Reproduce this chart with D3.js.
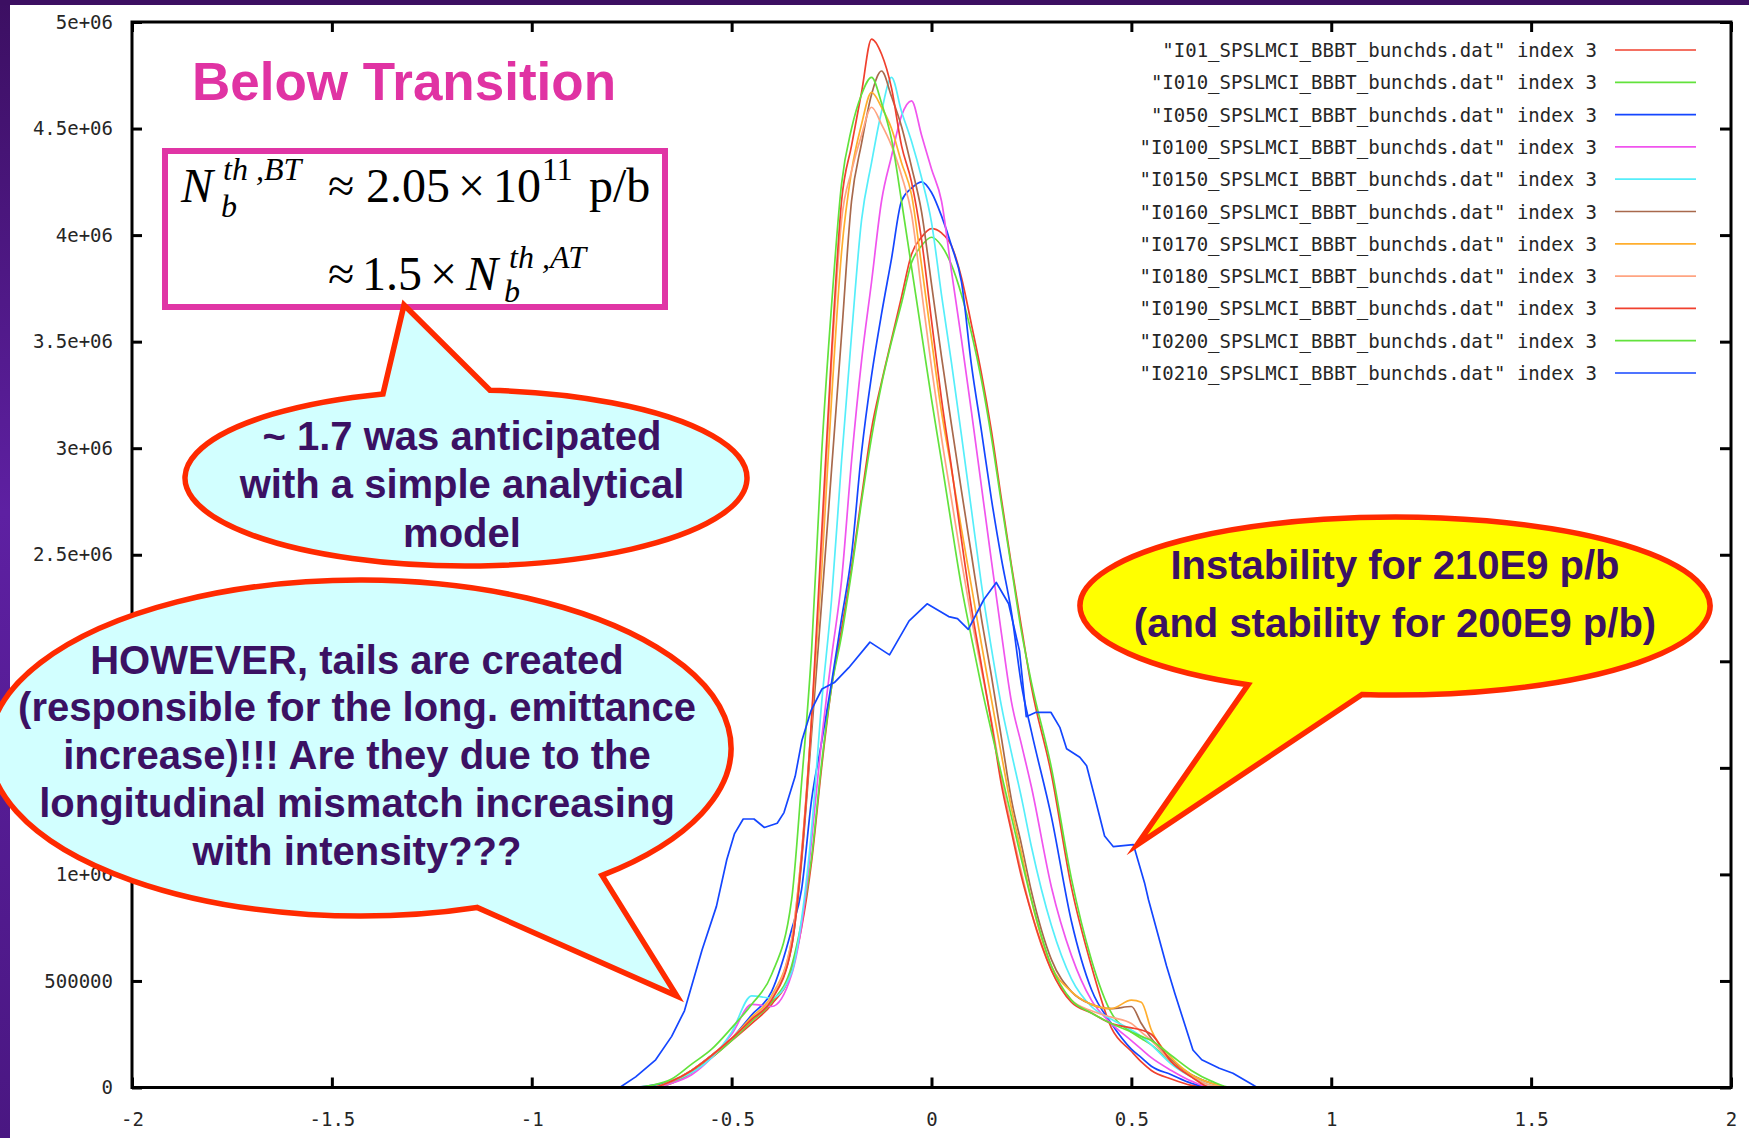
<!DOCTYPE html>
<html>
<head>
<meta charset="utf-8">
<script src="https://cdn.jsdelivr.net/npm/d3@7"></script>
<style>
  body { margin: 0; background: #fff; }
  svg { display: block; }
  .axis text, .legend text { font-family: "DejaVu Sans Mono", "Liberation Mono", monospace; font-size: 19px; fill: #262626; }
  .axis line { stroke: #000; stroke-width: 3; }
  .callout text { font-family: "Liberation Sans", Arial, sans-serif; font-weight: bold; font-size: 40px; fill: #3b1163; }
  .formula text { font-family: "Liberation Serif", "Times New Roman", serif; fill: #000; }
</style>
</head>
<body>
<div id="chart"></div>
<script>
// Configuration
const W = 1749, H = 1138;
const plot = { left: 132, right: 1731, top: 22, bottom: 1087.5 };

// Bunch profiles, values in units of 1e6, on a shared x grid
const xGrid = [-0.8,-0.75,-0.7,-0.65,-0.6,-0.55,-0.5,-0.45,-0.4,-0.35,-0.325,-0.3,-0.275,-0.25,-0.225,-0.2,-0.175,-0.15,-0.125,-0.1,-0.075,-0.05,-0.025,0,0.025,0.05,0.075,0.1,0.125,0.15,0.175,0.2,0.225,0.25,0.3,0.35,0.4,0.45,0.5,0.525,0.55,0.6,0.65,0.7,0.75,0.8];

const yI01   = [0,0,0,0.02,0.07,0.14,0.22,0.3,0.39,0.55,0.75,1.06,1.5,1.88,2.15,2.44,2.77,3.09,3.31,3.51,3.71,3.91,3.99,4.03,4.01,3.95,3.8,3.58,3.35,3.08,2.76,2.45,2.16,1.88,1.47,0.94,0.57,0.28,0.17,0.12,0.08,0.04,0.01,0,0,0];
const yI010  = [0,0,0,0.02,0.07,0.14,0.22,0.31,0.4,0.57,0.78,1.08,1.52,1.88,2.12,2.42,2.75,3.05,3.3,3.5,3.68,3.87,3.95,3.99,3.95,3.86,3.72,3.54,3.32,3.05,2.74,2.44,2.14,1.9,1.5,0.98,0.6,0.35,0.26,0.23,0.2,0.12,0.06,0.02,0,0];
const yI050  = [0,0,0.01,0.03,0.08,0.15,0.23,0.34,0.45,0.74,0.93,1.35,1.62,1.9,2.2,2.5,2.98,3.34,3.63,3.89,4.16,4.22,4.25,4.2,4.09,3.95,3.78,3.39,3.08,2.76,2.48,2.23,1.89,1.67,1.27,0.78,0.46,0.3,0.18,0.14,0.1,0.06,0.02,0,0,0];
const yI0100 = [0,0,0,0.02,0.06,0.14,0.25,0.39,0.38,0.53,0.76,1.16,1.63,2.02,2.38,2.94,3.41,3.78,4.16,4.37,4.56,4.63,4.47,4.31,4.16,3.83,3.51,3.17,2.82,2.47,2.13,1.81,1.61,1.41,0.94,0.62,0.41,0.3,0.22,0.18,0.14,0.08,0.03,0,0,0];
const yI0150 = [0,0,0,0.03,0.07,0.14,0.26,0.43,0.42,0.54,0.79,1.21,1.8,2.29,2.94,3.53,4.07,4.34,4.58,4.74,4.58,4.44,4.27,4.06,3.72,3.4,3.06,2.71,2.36,2.06,1.79,1.57,1.36,1.13,0.76,0.51,0.38,0.32,0.27,0.24,0.2,0.11,0.05,0.01,0,0];
const yI0160 = [0,0,0,0.03,0.08,0.15,0.23,0.32,0.42,0.66,1.06,1.66,2.27,2.9,3.53,4.16,4.43,4.66,4.77,4.65,4.51,4.32,4.11,3.77,3.43,3.11,2.8,2.5,2.2,1.93,1.64,1.35,1.14,0.92,0.6,0.45,0.39,0.37,0.38,0.3,0.23,0.13,0.06,0.02,0,0];
const yI0170 = [0,0,0,0.03,0.08,0.15,0.23,0.33,0.43,0.69,1.1,1.72,2.42,3.23,3.92,4.3,4.52,4.67,4.6,4.5,4.34,4.19,3.86,3.51,3.17,2.9,2.62,2.35,2.08,1.82,1.56,1.31,1.1,0.88,0.57,0.45,0.39,0.37,0.41,0.4,0.27,0.14,0.06,0.02,0,0];
const yI0180 = [0,0,0,0.03,0.08,0.15,0.23,0.32,0.42,0.69,1.1,1.72,2.5,3.4,4.07,4.3,4.47,4.6,4.52,4.42,4.28,4.1,3.74,3.38,3.05,2.76,2.47,2.2,1.96,1.72,1.45,1.22,1.01,0.82,0.55,0.41,0.36,0.33,0.3,0.26,0.22,0.12,0.05,0.01,0,0];
const yI0190 = [0,0,0,0.03,0.08,0.15,0.23,0.32,0.41,0.66,1.08,1.73,2.59,3.45,4.16,4.42,4.67,4.92,4.85,4.69,4.42,4.25,3.98,3.6,3.23,2.91,2.57,2.25,1.98,1.71,1.42,1.2,0.99,0.82,0.55,0.4,0.35,0.3,0.28,0.27,0.25,0.12,0.05,0,0,0];
const yI0200 = [0,0,0.01,0.04,0.11,0.18,0.28,0.39,0.53,0.88,1.43,2.05,2.97,3.67,4.24,4.5,4.66,4.74,4.62,4.45,4.16,3.85,3.54,3.23,2.94,2.64,2.35,2.11,1.88,1.67,1.47,1.27,1.07,0.88,0.57,0.41,0.35,0.3,0.26,0.24,0.22,0.15,0.08,0.03,0,0];

// the unstable bunch has its own sampling
const xI0210 = [-0.78,-0.74,-0.69,-0.65,-0.618,-0.574,-0.538,-0.512,-0.493,-0.471,-0.444,-0.418,-0.386,-0.369,-0.341,-0.324,-0.301,-0.274,-0.243,-0.207,-0.154,-0.105,-0.056,-0.011,0.043,0.065,0.092,0.131,0.162,0.193,0.22,0.237,0.26,0.299,0.321,0.338,0.371,0.388,0.41,0.433,0.455,0.505,0.533,0.543,0.588,0.609,0.654,0.676,0.72,0.754,0.797,0.815];
const yI0210 = [0,0.05,0.13,0.24,0.36,0.645,0.85,1.07,1.19,1.26,1.26,1.22,1.24,1.29,1.46,1.63,1.77,1.87,1.9,1.97,2.09,2.03,2.19,2.27,2.21,2.2,2.15,2.29,2.37,2.27,2.05,1.74,1.76,1.76,1.69,1.59,1.55,1.51,1.35,1.18,1.13,1.14,0.96,0.88,0.57,0.44,0.176,0.13,0.09,0.067,0.02,0];

const seriesNames = ["I01", "I010", "I050", "I0100", "I0150", "I0160", "I0170", "I0180", "I0190", "I0200", "I0210"];
const seriesColors = ["#f0402e", "#62e23c", "#1446ff", "#f054ee", "#55eefa", "#a8694c", "#ffae2e", "#ffa482", "#f0402e", "#62e23c", "#1446ff"];

const xTicks = [-2, -1.5, -1, -0.5, 0, 0.5, 1, 1.5, 2];
const xTickLabels = ["-2", "-1.5", "-1", "-0.5", "0", "0.5", "1", "1.5", "2"];
const yTicks = [0, 0.5, 1, 1.5, 2, 2.5, 3, 3.5, 4, 4.5, 5];
const yTickLabels = ["0", "500000", "1e+06", "1.5e+06", "2e+06", "2.5e+06", "3e+06", "3.5e+06", "4e+06", "4.5e+06", "5e+06"];

// Build the series table
const gridSeries = [yI01, yI010, yI050, yI0100, yI0150, yI0160, yI0170, yI0180, yI0190, yI0200];
const series = seriesNames.map((name, i) => {
  const onGrid = i < gridSeries.length;
  const pts = onGrid
    ? xGrid.map((x, j) => [x, gridSeries[i][j]])
    : xI0210.map((x, j) => [x, yI0210[j]]);
  return { name, color: seriesColors[i], pts, smooth: onGrid };
});

// Scales
const x = d3.scaleLinear().domain([-2, 2]).range([plot.left, plot.right]);
const y = d3.scaleLinear().domain([0, 5]).range([plot.bottom, plot.top]);

// Create SVG
const svg = d3.select("#chart").append("svg").attr("width", W).attr("height", H);

// Slide frame: purple band on top, gradient strip on the left
const defs = svg.append("defs");
const grad = defs.append("linearGradient").attr("id", "strip").attr("x1", 0).attr("y1", 0).attr("x2", 0).attr("y2", 1);
grad.append("stop").attr("offset", "0%").attr("stop-color", "#3c0f62");
grad.append("stop").attr("offset", "45%").attr("stop-color", "#5e20a2");
grad.append("stop").attr("offset", "100%").attr("stop-color", "#4a1782");
svg.append("rect").attr("x", 0).attr("y", 0).attr("width", 10).attr("height", H).attr("fill", "url(#strip)");
svg.append("rect").attr("x", 0).attr("y", 0).attr("width", W).attr("height", 5).attr("fill", "#3c0f62");

// Curves
const smoothLine = d3.line().x((d) => x(d[0])).y((d) => y(d[1])).curve(d3.curveMonotoneX);
const rawLine = d3.line().x((d) => x(d[0])).y((d) => y(d[1]));
svg.append("g")
  .selectAll("path")
  .data(series)
  .join("path")
  .attr("d", (d) => (d.smooth ? smoothLine(d.pts) : rawLine(d.pts)))
  .attr("fill", "none")
  .attr("stroke", (d) => d.color)
  .attr("stroke-width", 1.7)
  .attr("stroke-linejoin", "round");

// Axes: gnuplot style ticks pointing inwards on all four sides
svg.append("g").attr("class", "axis")
  .attr("transform", `translate(0,${plot.bottom})`)
  .call(d3.axisBottom(x).tickValues(xTicks).tickSize(-10).tickPadding(25).tickFormat((d, i) => xTickLabels[i]))
  .call((g) => g.select(".domain").remove());
svg.append("g").attr("class", "axis")
  .attr("transform", `translate(0,${plot.top})`)
  .call(d3.axisTop(x).tickValues(xTicks).tickSize(-10).tickFormat(""))
  .call((g) => g.select(".domain").remove());
svg.append("g").attr("class", "axis")
  .attr("transform", `translate(${plot.left},0)`)
  .call(d3.axisLeft(y).tickValues(yTicks).tickSize(-10).tickPadding(19).tickFormat((d, i) => yTickLabels[i]))
  .call((g) => g.select(".domain").remove());
svg.append("g").attr("class", "axis")
  .attr("transform", `translate(${plot.right},0)`)
  .call(d3.axisRight(y).tickValues(yTicks).tickSize(-11).tickFormat(""))
  .call((g) => g.select(".domain").remove());

svg.append("rect")
  .attr("x", plot.left).attr("y", plot.top)
  .attr("width", plot.right - plot.left).attr("height", plot.bottom - plot.top)
  .attr("fill", "none").attr("stroke", "#000").attr("stroke-width", 3);

// Legend
const legend = svg.append("g").attr("class", "legend");
series.forEach((s, i) => {
  const ly = 50 + i * 32.3;
  legend.append("text")
    .attr("x", 1597).attr("y", ly + 7)
    .attr("text-anchor", "end")
    .text(`"${s.name}_SPSLMCI_BBBT_bunchds.dat" index 3`);
  legend.append("line")
    .attr("x1", 1615).attr("x2", 1696).attr("y1", ly).attr("y2", ly)
    .attr("stroke", s.color).attr("stroke-width", 1.7);
});

// Title
svg.append("text")
  .attr("x", 192).attr("y", 100)
  .attr("font-family", "Liberation Sans, Arial, sans-serif")
  .attr("font-weight", "bold").attr("font-size", 53)
  .attr("fill", "#e033a3")
  .text("Below Transition");

// Formula box
const formula = svg.append("g").attr("class", "formula");
formula.append("rect")
  .attr("x", 165).attr("y", 151).attr("width", 500).attr("height", 156)
  .attr("fill", "#fff").attr("stroke", "#e035a5").attr("stroke-width", 6);

function ftext(str, fx, fy, size, italic) {
  formula.append("text")
    .attr("x", fx).attr("y", fy)
    .attr("font-size", size)
    .attr("font-style", italic ? "italic" : "normal")
    .text(str);
}
ftext("N", 181, 202, 48, true);
ftext("th ,BT", 223, 180, 32, true);
ftext("b", 221, 217, 32, true);
ftext("\u2248", 328, 202, 48, false);
ftext("2.05", 366, 202, 48, false);
ftext("\u00d7", 458, 202, 48, false);
ftext("10", 493, 202, 48, false);
ftext("11", 542, 180, 32, false);
ftext("p/b", 589, 202, 48, false);
ftext("\u2248", 328, 290, 48, false);
ftext("1.5", 362, 290, 48, false);
ftext("\u00d7", 430, 290, 48, false);
ftext("N", 466, 290, 48, true);
ftext("th ,AT", 509, 268, 32, true);
ftext("b", 504, 302, 32, true);

// Callouts
function onEllipse(e, px, upper) {
  const t = (px - e.cx) / e.rx;
  const dy = e.ry * Math.sqrt(Math.max(0, 1 - t * t));
  return [px, upper ? e.cy - dy : e.cy + dy];
}
// the arc runs clockwise from b all the way round to a
function calloutPath(e, a, tip, b) {
  return `M${a} L${tip} L${b} A${e.rx},${e.ry} 0 1 1 ${a} Z`;
}
function callout(e, a, tip, b, fill, lines, tx, baselines) {
  const g = svg.append("g").attr("class", "callout");
  g.append("path")
    .attr("d", calloutPath(e, a, tip, b))
    .attr("fill", fill)
    .attr("stroke", "#ff2a00")
    .attr("stroke-width", 5.5)
    .attr("stroke-linejoin", "miter")
    .attr("stroke-miterlimit", 12);
  lines.forEach((t, i) => {
    g.append("text").attr("x", tx).attr("y", baselines[i]).attr("text-anchor", "middle").text(t);
  });
}

const e1 = { cx: 466, cy: 478, rx: 281, ry: 88 };
callout(e1, onEllipse(e1, 383, true), [404, 305], onEllipse(e1, 490, true), "#d2ffff",
  ["~ 1.7 was anticipated", "with a simple analytical", "model"], 462, [450, 498, 547]);

const e2 = { cx: 360, cy: 748, rx: 371, ry: 168 };
callout(e2, onEllipse(e2, 602, false), [677, 996], onEllipse(e2, 477, false), "#d2ffff",
  ["HOWEVER, tails are created", "(responsible for the long. emittance", "increase)!!! Are they due to the",
   "longitudinal mismatch increasing", "with intensity???"], 357, [674, 721, 769, 817, 865]);

const e3 = { cx: 1395, cy: 606, rx: 315, ry: 89 };
callout(e3, onEllipse(e3, 1362, false), [1137, 845], onEllipse(e3, 1248, false), "#ffff00",
  ["Instability for 210E9 p/b", "(and stability for 200E9 p/b)"], 1395, [579, 637]);
</script>
</body>
</html>
